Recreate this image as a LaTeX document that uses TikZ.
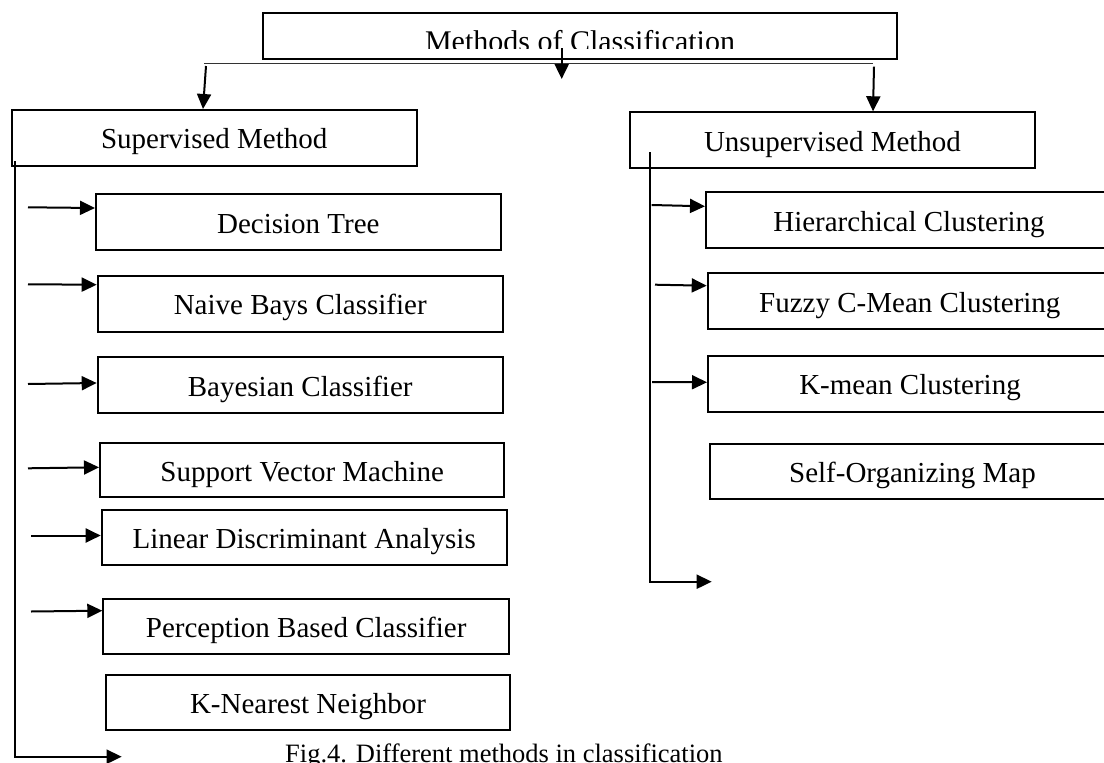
\documentclass[tikz,border=0pt]{standalone}
\usepackage{fontspec}
\setmainfont{Liberation Serif}
\usetikzlibrary{arrows.meta,calc}
\tikzset{
  box/.style={draw=black, line width=2pt, rectangle, inner sep=0pt, fill=white,
              text height=22pt, text depth=0pt,
              font=\fontsize{29}{34}\selectfont},
  conn/.style={draw=black, line width=2pt},
  arr/.style={conn, -{Triangle[length=15pt,width=14pt]}},
  thinline/.style={draw=black!80, line width=1pt},
}
\begin{document}
\begin{tikzpicture}[x=1pt,y=-1pt]
\useasboundingbox (0,0) rectangle (1104,763);
\fill[white] (0,0) rectangle (1104,763);

% title box
\node[box, minimum width=633.7pt, minimum height=46pt] (title) at (580.2,36.3) {};
\begin{scope}
  \clip (264,14) rectangle (896,48.3);
  \node[anchor=base, inner sep=0pt, font=\fontsize{30}{34}\selectfont] (titletext) at (580,51.5) {Methods of Classification};
\end{scope}

% second level
\node[box, minimum width=405pt, minimum height=55.7pt] (sup) at (214.2,137.85) {Supervised Method};
\node[box, minimum width=405pt, minimum height=56pt] (uns) at (832.5,140.3) {Unsupervised Method};

% supervised children
\node[box, minimum width=404.7pt, minimum height=55.7pt] (dt) at (298.35,222.15) {Decision Tree};
\node[box, minimum width=405pt, minimum height=55.7pt] (nb) at (300.2,303.85) {Naive Bays Classifier};
\node[box, minimum width=405pt, minimum height=56pt] (bc) at (300.2,385.3) {Bayesian Classifier};
\node[box, minimum width=404.3pt, minimum height=54.6pt] (svm) at (302.15,470) {Support Vector Machine};
\node[box, minimum width=405pt, minimum height=55pt] (lda) at (304.2,537.5) {Linear Discriminant Analysis};
\node[box, minimum width=405.7pt, minimum height=55pt] (pbc) at (306.15,626.5) {Perception Based Classifier};
\node[box, minimum width=404pt, minimum height=55pt] (knn) at (308,702.5) {K-Nearest Neighbor};

% unsupervised children
\node[box, minimum width=406pt, minimum height=55.4pt] (hc) at (909,220) {Hierarchical Clustering};
\node[box, minimum width=404.3pt, minimum height=56pt] (fc) at (909.85,301.3) {Fuzzy C-Mean Clustering};
\node[box, minimum width=404pt, minimum height=56pt] (km) at (910,383.7) {K-mean Clustering};
\node[box, minimum width=405pt, minimum height=55.3pt] (som) at (912.5,471.65) {Self-Organizing Map};

% caption
\node[anchor=base west, inner sep=0pt, font=\fontsize{26.5}{30}\selectfont] (cap) at (285,762.5) {Fig.4. Different methods in classification};

% top connectors
\coordinate (hl) at (204,63.3);
\coordinate (hr) at (873,63.3);
\draw[thinline] (hl) -- (hr);
\coordinate (la) at (206,66);
\draw[arr] (la) -- ($(sup.north west)+(192.3,0)$);
\coordinate (ma) at (561.7,48);
\coordinate (mb) at (561.7,79);
\draw[arr] (ma) -- (mb);
\coordinate (ra) at (874,66.7);
\draw[arr] (ra) -- ($(uns.north west)+(244,0)$);

% supervised spine
\coordinate (ls0) at (14.5,161);
\coordinate (ls1) at (14.5,756.7);
\coordinate (ls2) at (121.7,756.7);
\draw[arr] (ls0) -- (ls1) -- (ls2);

\coordinate (s1) at (28,207.3);
\draw[arr] (s1) -- ($(dt.north west)+(0,14.7)$);
\coordinate (s2) at (28,284.3);
\draw[arr] (s2) -- ($(nb.north west)+(0,9.7)$);
\coordinate (s3) at (28,384);
\draw[arr] (s3) -- ($(bc.north west)+(0,26.7)$);
\coordinate (s4) at (28,468.3);
\draw[arr] (s4) -- ($(svm.north west)+(0,25.6)$);
\coordinate (s5) at (31,535.5);
\draw[arr] (s5) -- ($(lda.north west)+(0,26.5)$);
\coordinate (s6) at (31,611.5);
\draw[arr] (s6) -- ($(pbc.north west)+(0,12.7)$);

% unsupervised spine
\coordinate (us0) at (650,152.3);
\coordinate (us1) at (650,581.7);
\coordinate (us2) at (711.7,581.7);
\draw[arr] (us0) -- (us1) -- (us2);

\coordinate (u1) at (651.7,205);
\draw[arr] (u1) -- ($(hc.north west)+(0,15)$);
\coordinate (u2) at (655,284.7);
\draw[arr] (u2) -- ($(fc.north west)+(0,13.4)$);
\coordinate (u3) at (652,382);
\draw[arr] (u3) -- ($(km.north west)+(0,27.6)$);
\end{tikzpicture}
\end{document}
